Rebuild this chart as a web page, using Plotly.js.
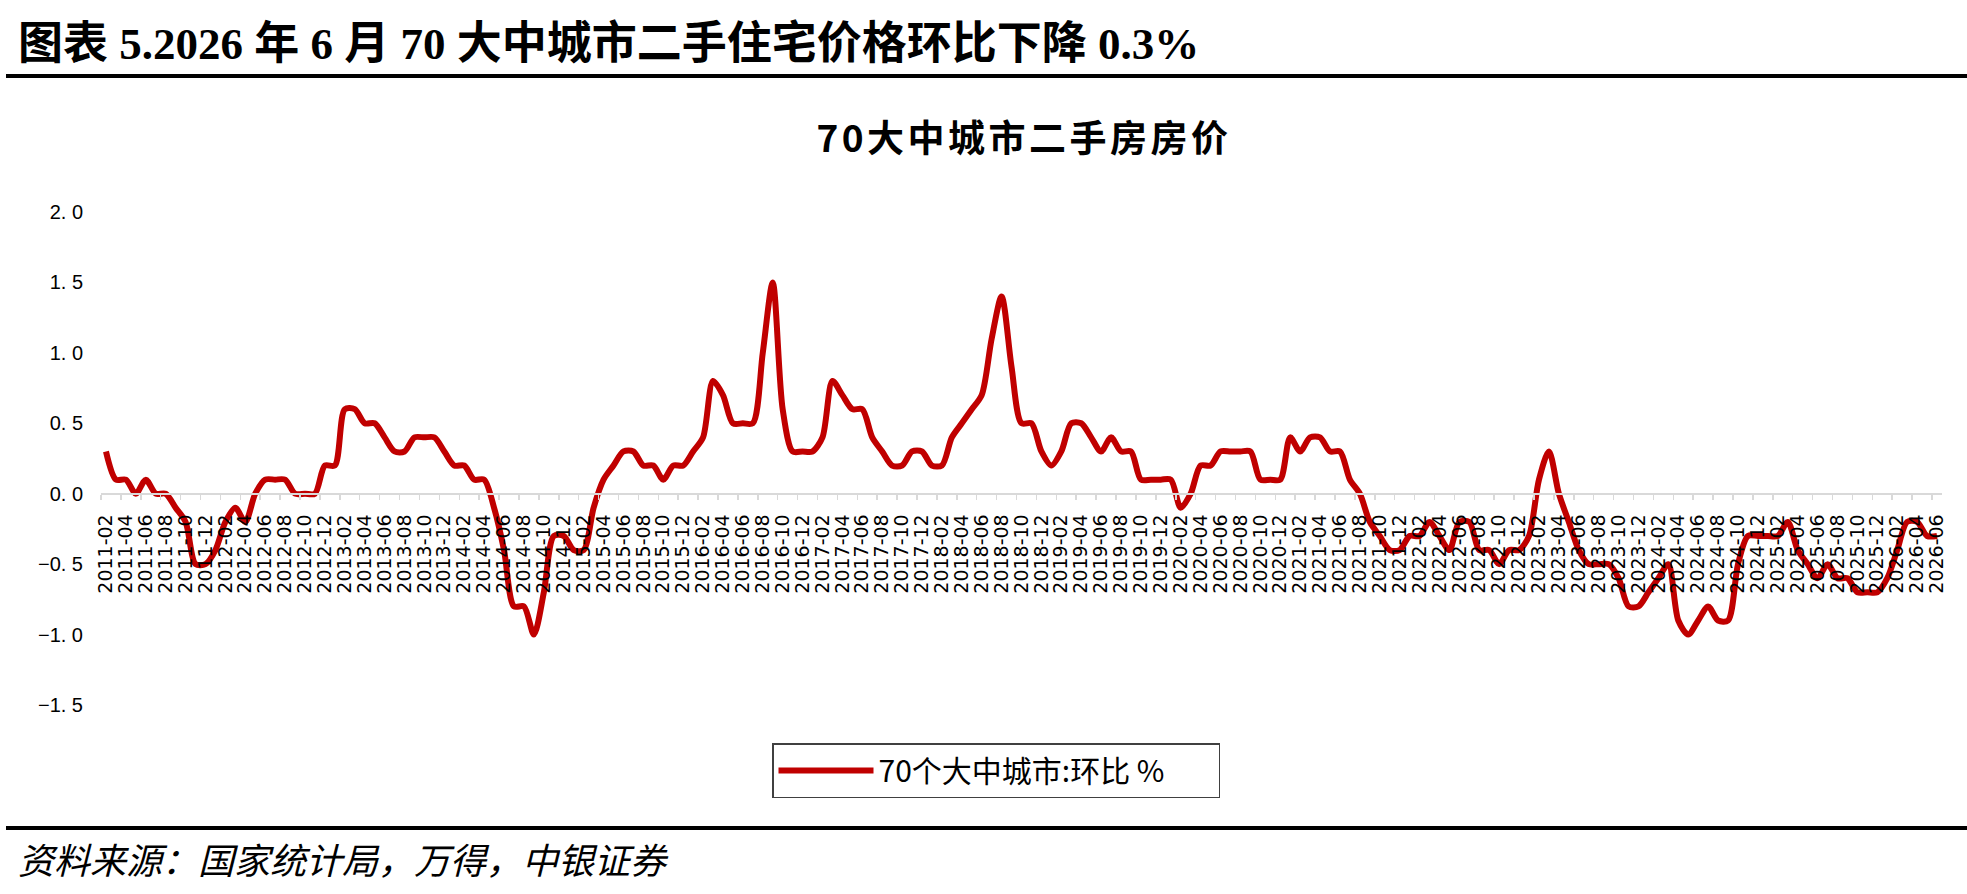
<!DOCTYPE html>
<html>
<head>
<meta charset="utf-8">
<script src="https://cdn.plot.ly/plotly-3.0.1.min.js"></script>
<style>
  body { margin: 0; background: #fff; }
  #chart { width: 1967px; height: 894px; }
  #chart .gtitle { letter-spacing: 3.5px; }
</style>
</head>
<body>
<div id="chart"></div>
<script>
// 70大中城市二手住宅价格环比(%)，2011-02 ~ 2026-06
const momValues = [
  0.3, 0.1, 0.1, 0.0, 0.1, 0.0, 0.0, -0.1, -0.2, -0.5, -0.5,            // 2011-02..12
  -0.4, -0.2, -0.1, -0.2, 0.0, 0.1, 0.1, 0.1, 0.0, 0.0, 0.0, 0.2,       // 2012
  0.2, 0.6, 0.6, 0.5, 0.5, 0.4, 0.3, 0.3, 0.4, 0.4, 0.4, 0.3,           // 2013
  0.2, 0.2, 0.1, 0.1, -0.1, -0.4, -0.8, -0.8, -1.0, -0.7, -0.3, -0.3,   // 2014
  -0.4, -0.4, -0.1, 0.1, 0.2, 0.3, 0.3, 0.2, 0.2, 0.1, 0.2, 0.2,        // 2015
  0.3, 0.4, 0.8, 0.7, 0.5, 0.5, 0.5, 1.0, 1.5, 0.6, 0.3, 0.3,           // 2016
  0.3, 0.4, 0.8, 0.7, 0.6, 0.6, 0.4, 0.3, 0.2, 0.2, 0.3, 0.3,           // 2017
  0.2, 0.2, 0.4, 0.5, 0.6, 0.7, 1.1, 1.4, 0.9, 0.5, 0.5, 0.3,           // 2018
  0.2, 0.3, 0.5, 0.5, 0.4, 0.3, 0.4, 0.3, 0.3, 0.1, 0.1, 0.1,           // 2019
  0.1, -0.1, 0.0, 0.2, 0.2, 0.3, 0.3, 0.3, 0.3, 0.1, 0.1, 0.1,          // 2020
  0.4, 0.3, 0.4, 0.4, 0.3, 0.3, 0.1, 0.0, -0.2, -0.3, -0.4, -0.4,       // 2021
  -0.3, -0.3, -0.2, -0.3, -0.4, -0.2, -0.2, -0.4, -0.4, -0.5, -0.4, -0.4, // 2022
  -0.3, 0.1, 0.3, 0.0, -0.2, -0.4, -0.5, -0.5, -0.5, -0.6, -0.8, -0.8,  // 2023
  -0.7, -0.6, -0.5, -0.9, -1.0, -0.9, -0.8, -0.9, -0.9, -0.5, -0.3, -0.3, // 2024
  -0.3, -0.3, -0.2, -0.4, -0.5, -0.6, -0.5, -0.6, -0.6, -0.7, -0.7, -0.7, // 2025
  -0.6, -0.4, -0.2, -0.2, -0.3, -0.3                                    // 2026-01..06
];

// month labels "yyyy-mm", starting 2011-02
const months = [];
for (let i = 0; i < momValues.length; i++) {
  const m = 1 + i;                 // 2011-02 is month offset 1
  const yr = 2011 + Math.floor(m / 12);
  const mo = (m % 12) + 1;
  months.push(yr + '-' + (mo < 10 ? '0' + mo : mo));
}

const yTicks = [-1.5, -1.0, -0.5, 0.0, 0.5, 1.0, 1.5, 2.0];
const yTickText = yTicks.map(v => (v < 0 ? '\u2212' : '') + Math.abs(v).toFixed(1).replace('.', '. '));

const seriesName = '70个大中城市:环比 %';
const chartTitle = '70大中城市二手房房价';
const headerText = '图表 5.2026 年 6 月 70 大中城市二手住宅价格环比下降 0.3%';
const sourceText = '资料来源：国家统计局，万得，中银证券';

// page pixel -> paper coords (plot area: x 101..1942, y 212..705)
const W = 1967, H = 894;
const mL = 101, mR = 25, mT = 212, mB = 189;
const pw = W - mL - mR, ph = H - mT - mB;
const px = x => (x - mL) / pw;
const py = y => (H - mB - y) / ph;

const cjk = '"Noto Sans CJK SC", sans-serif';

const trace = {
  x: months,
  y: momValues,
  name: seriesName,
  type: 'scatter',
  mode: 'lines',
  line: { color: '#c00000', width: 6, shape: 'spline', smoothing: 0.8 },
  hoverinfo: 'skip'
};

const layout = {
  width: W,
  height: H,
  margin: { l: mL, r: mR, t: mT, b: mB, pad: 0 },
  paper_bgcolor: '#ffffff',
  plot_bgcolor: '#ffffff',
  showlegend: true,
  title: {
    text: chartTitle,
    font: { family: cjk, size: 37, color: '#000', weight: 'bold' },
    xref: 'paper', x: px(1024), xanchor: 'center',
    yref: 'container', y: 1 - 139 / H, yanchor: 'middle'
  },
  xaxis: {
    type: 'category',
    categoryorder: 'array',
    categoryarray: months,
    range: [-0.5, months.length - 0.5],
    anchor: 'free',
    position: 1.5 / 3.5,
    tickmode: 'linear',
    tick0: 0,
    dtick: 2,
    tickson: 'boundaries',
    ticks: 'outside',
    ticklen: 5,
    tickwidth: 1.5,
    tickcolor: '#d9d9d9',
    tickangle: -90,
    tickfont: { family: '"DejaVu Sans", sans-serif', size: 19, color: '#000' },
    ticklabelstandoff: 12,
    showline: true,
    linecolor: '#d9d9d9',
    linewidth: 2,
    showgrid: false,
    zeroline: false,
    fixedrange: true
  },
  yaxis: {
    range: [-1.5, 2.0],
    tickmode: 'array',
    tickvals: yTicks,
    ticktext: yTickText,
    ticks: '',
    ticklabelstandoff: 17,
    tickfont: { family: '"Liberation Sans", Arial, sans-serif', size: 20, color: '#000' },
    showline: false,
    showgrid: false,
    zeroline: false,
    fixedrange: true
  },
  legend: {
    orientation: 'h',
    x: px(772), xanchor: 'left',
    y: py(743), yanchor: 'top',
    bgcolor: '#ffffff',
    bordercolor: '#404040',
    borderwidth: 1.5,
    itemwidth: 95,
    entrywidth: 335,
    font: { family: cjk, size: 30, color: '#000' }
  },
  annotations: [
    {
      text: headerText,
      xref: 'paper', yref: 'paper',
      x: px(16), y: py(44), xanchor: 'left', yanchor: 'middle',
      showarrow: false,
      font: { family: '"Liberation Serif", "Noto Sans CJK SC", serif', size: 45, color: '#000', weight: 'bold' }
    },
    {
      text: sourceText,
      xref: 'paper', yref: 'paper',
      x: px(16), y: py(858), xanchor: 'left', yanchor: 'middle',
      showarrow: false,
      font: { family: cjk, size: 36, color: '#000', style: 'italic' }
    }
  ],
  shapes: [
    {
      type: 'line', xref: 'paper', yref: 'paper',
      x0: px(6), x1: px(W), y0: py(76), y1: py(76),
      line: { color: '#000', width: 4 }
    },
    {
      type: 'line', xref: 'paper', yref: 'paper',
      x0: px(6), x1: px(W), y0: py(828), y1: py(828),
      line: { color: '#000', width: 4 }
    }
  ]
};

Plotly.newPlot('chart', [trace], layout, { displayModeBar: false, staticPlot: true });
</script>
</body>
</html>
